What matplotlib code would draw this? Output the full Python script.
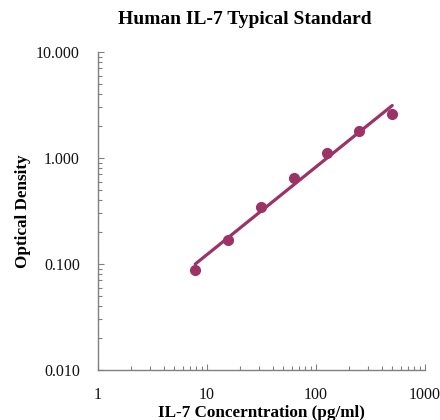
import numpy as np
import matplotlib
matplotlib.use("Agg")
import matplotlib.pyplot as plt
from matplotlib.ticker import FixedLocator, FixedFormatter, LogLocator, NullFormatter

concentration = [7.8, 15.6, 31.25, 62.5, 125, 250, 500]
optical_density = [0.088, 0.168, 0.347, 0.643, 1.107, 1.81, 2.60]
x_ticks = [1, 10, 100, 1000]
x_tick_labels = ["1", "10", "100", "1000"]
y_ticks = [0.01, 0.1, 1, 10]
y_tick_labels = ["0.010", "0.100", "1.000", "10.000"]

color = "#9B3366"
serif = ["Liberation Serif", "DejaVu Serif"]

fig = plt.figure(figsize=(4.4, 4.2), dpi=100)
ax = fig.add_axes([0.2227, 0.119, 0.7433, 0.757])

xs = np.array(concentration)
ys = np.array(optical_density)
b, a = np.polyfit(np.log10(xs), np.log10(ys), 1)
xl = np.array([xs.min(), xs.max()])
ax.plot(xl, 10 ** (a + b * np.log10(xl)), color=color, lw=2.3, solid_capstyle="round", zorder=2)
ax.plot(xs, ys, "o", color=color, ms=7, zorder=3)

ax.set_xscale("log")
ax.set_yscale("log")
ax.set_xlim(1, 1000)
ax.set_ylim(0.01, 10)
ax.xaxis.set_major_locator(FixedLocator(x_ticks))
ax.xaxis.set_major_formatter(FixedFormatter(x_tick_labels))
ax.yaxis.set_major_locator(FixedLocator(y_ticks))
ax.yaxis.set_major_formatter(FixedFormatter(y_tick_labels))
ax.xaxis.set_minor_locator(LogLocator(base=10, subs=np.arange(2, 10)))
ax.yaxis.set_minor_locator(LogLocator(base=10, subs=np.arange(2, 10)))
ax.xaxis.set_minor_formatter(NullFormatter())
ax.yaxis.set_minor_formatter(NullFormatter())

for s in ["top", "right"]:
    ax.spines[s].set_visible(False)
for s in ["left", "bottom"]:
    ax.spines[s].set_color("#808080")
    ax.spines[s].set_linewidth(1.0)

ax.tick_params(which="both", direction="in", color="#808080", width=0.8)
ax.tick_params(which="major", length=4)
ax.tick_params(which="minor", length=3)
ax.tick_params(axis="y", which="major", pad=13)
ax.tick_params(axis="x", which="major", pad=12)
for lab in ax.get_xticklabels() + ax.get_yticklabels():
    lab.set_family(serif)
    lab.set_fontsize(11.5)
    lab.set_color("#111111")

fig.text(245 / 440, 1 - 19 / 420, "Human IL-7 Typical Standard", family=serif, fontsize=14,
         fontweight="bold", ha="center", va="center")
ax.set_xlabel("IL-7 Concerntration (pg/ml)", family=serif, fontsize=12.3, fontweight="bold", labelpad=2)
ax.set_ylabel("Optical Density", family=serif, fontsize=12.3, fontweight="bold", labelpad=4)

fig.savefig("out.png", dpi=100)
